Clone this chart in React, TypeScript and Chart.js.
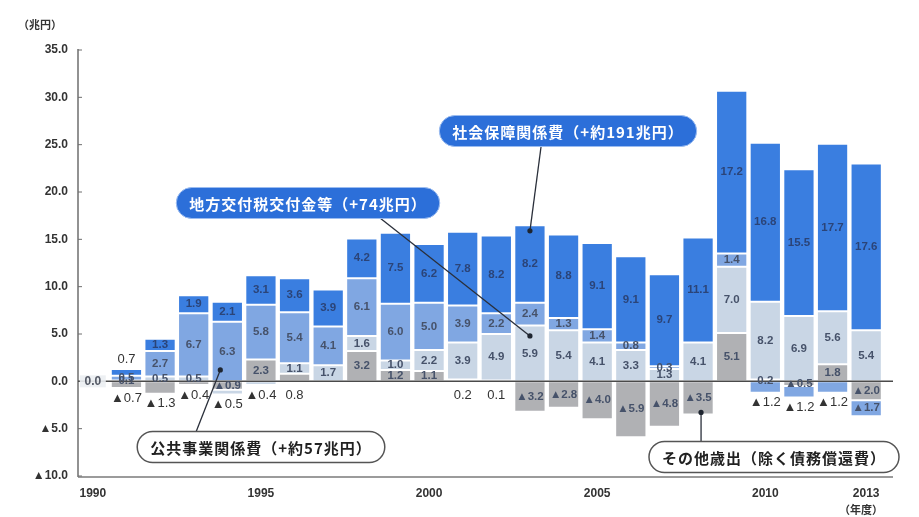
import React, { useEffect, useRef } from 'react';
import { Chart, registerables } from 'chart.js';

Chart.register(...registerables);

// 年度
const years = ['1990', '1991', '1992', '1993', '1994', '1995', '1996', '1997', '1998', '1999', '2000', '2001',
  '2002', '2003', '2004', '2005', '2006', '2007', '2008', '2009', '2010', '2011', '2012', '2013'];
const tickYears = ['1990', '1995', '2000', '2005', '2010', '2013'];
const yTicks = [-10, -5, 0, 5, 10, 15, 20, 25, 30, 35];

// 1990年度比の増減（兆円）
const socialSecurity = [0, 0.7, 1.3, 1.9, 2.1, 3.1, 3.6, 3.9, 4.2, 7.5, 6.2, 7.8, 8.2, 8.2, 8.8, 9.1, 9.1, 9.7, 11.1, 17.2, 16.8, 15.5, 17.7, 17.6];
const publicWorks = [0, 0.5, 2.7, 6.7, 6.3, 5.8, 5.4, 4.1, 6.1, 6.0, 5.0, 3.9, 2.2, 2.4, 1.3, 1.4, 0.8, 0.3, 0, 1.4, -1.2, -1.2, -1.2, -1.7];
const localAllocation = [0, 0.1, 0.5, 0.5, -0.5, -0.4, 1.1, 1.7, 1.6, 1.0, 2.2, 3.9, 4.9, 5.9, 5.4, 4.1, 3.3, 1.3, 4.1, 7.0, 8.2, 6.9, 5.6, 5.4];
const otherSpending = [0, -0.7, -1.3, -0.4, -0.9, 2.3, 0.8, 0, 3.2, 1.2, 1.1, 0.2, 0.1, -3.2, -2.8, -4.0, -5.9, -4.8, -3.5, 5.1, 0.2, -0.5, 1.8, -2.0];

const seriesNames = ['その他歳出（除く債務償還費）', '地方交付税交付金等', '公共事業関係費', '社会保障関係費'];
const seriesColors = ['#b0b1b4', '#c9d6e5', '#80a7e2', '#3a7ee0'];

const fmt = (v: number) => (v < 0 ? '▲' + Math.abs(v).toFixed(1) : v.toFixed(1));

const FONT = '"Liberation Sans", Arial, sans-serif';
const JP = '"Noto Sans CJK JP", "Noto Sans", sans-serif';

function roundRect(ctx: CanvasRenderingContext2D, x: number, y: number, w: number, h: number, r: number) {
  ctx.beginPath();
  ctx.moveTo(x + r, y);
  ctx.lineTo(x + w - r, y);
  ctx.arc(x + w - r, y + r, r, -Math.PI / 2, Math.PI / 2);
  ctx.lineTo(x + r, y + h);
  ctx.arc(x + r, y + r, r, Math.PI / 2, Math.PI * 1.5);
  ctx.closePath();
}

function drawPill(ctx: CanvasRenderingContext2D, text: string, cx: number, cy: number, blue: boolean) {
  ctx.save();
  ctx.font = `bold 15px ${JP}`;
  (ctx as any).letterSpacing = '1px';
  const w = ctx.measureText(text).width + 26;
  const h = 31;
  const x = cx - w / 2;
  const y = cy - h / 2;
  roundRect(ctx, x, y, w, h, h / 2);
  if (blue) {
    ctx.fillStyle = '#2c6fd9';
    ctx.fill();
    ctx.strokeStyle = '#9bbcf0';
    ctx.lineWidth = 1;
    ctx.stroke();
    ctx.fillStyle = '#ffffff';
  } else {
    ctx.fillStyle = '#ffffff';
    ctx.fill();
    ctx.strokeStyle = '#555555';
    ctx.lineWidth = 1.5;
    ctx.stroke();
    ctx.fillStyle = '#222222';
  }
  ctx.textAlign = 'center';
  ctx.textBaseline = 'middle';
  ctx.fillText(text, cx, cy + 1);
  ctx.restore();
}

function leader(ctx: CanvasRenderingContext2D, x1: number, y1: number, x2: number, y2: number) {
  ctx.save();
  ctx.strokeStyle = '#2a2f3a';
  ctx.lineWidth = 1.3;
  ctx.beginPath();
  ctx.moveTo(x1, y1);
  ctx.lineTo(x2, y2);
  ctx.stroke();
  ctx.fillStyle = '#1e2530';
  ctx.beginPath();
  ctx.arc(x2, y2, 2.6, 0, Math.PI * 2);
  ctx.fill();
  ctx.restore();
}

const decorPlugin = {
  id: 'decor',
  afterDatasetsDraw(chart: any) {
    const { ctx, chartArea, scales } = chart;
    const xs = scales.x;
    const ys = scales.y;
    const y0 = ys.getPixelForValue(0);
    ctx.save();
    // y axis line and ticks
    ctx.strokeStyle = '#6e6e6e';
    ctx.lineWidth = 1.5;
    ctx.beginPath();
    ctx.moveTo(chartArea.left + 2, chartArea.top - 1);
    ctx.lineTo(chartArea.left + 2, chartArea.bottom + 1);
    ctx.stroke();
    ctx.lineWidth = 1;
    yTicks.forEach((t) => {
      const yy = ys.getPixelForValue(t);
      ctx.beginPath();
      ctx.moveTo(chartArea.left + 2, yy);
      ctx.lineTo(chartArea.left + 6, yy);
      ctx.stroke();
    });
    // bottom axis line
    ctx.strokeStyle = '#7a7a7a';
    ctx.lineWidth = 1.5;
    ctx.beginPath();
    ctx.moveTo(chartArea.left + 2, chartArea.bottom + 1);
    ctx.lineTo(chartArea.right + 10, chartArea.bottom + 1);
    ctx.stroke();
    // zero line
    ctx.strokeStyle = '#4a4a4a';
    ctx.lineWidth = 1.5;
    ctx.beginPath();
    ctx.moveTo(chartArea.left + 2, y0);
    ctx.lineTo(chartArea.right + 10, y0);
    ctx.stroke();

    // 1990 baseline value
    const x1990 = xs.getPixelForValue(0);
    ctx.font = `bold 12px ${FONT}`;
    ctx.textAlign = 'center';
    ctx.textBaseline = 'middle';
    ctx.fillStyle = 'rgba(235,238,242,0.9)';
    ctx.fillRect(x1990 - 13, y0 - 6, 26, 12);
    ctx.fillStyle = '#555a66';
    ctx.fillText(socialSecurity[0].toFixed(1), x1990, y0 + 0.5);

    // data labels
    const sets = chart.data.datasets;
    for (let i = 1; i < years.length; i++) {
      for (let d = 0; d < sets.length; d++) {
        const v = sets[d].data[i];
        if (v === null || v === 0) continue;
        const bar = chart.getDatasetMeta(d).data[i];
        const txt = fmt(v);
        const lx = bar.x;
        let ly = (bar.y + bar.base) / 2;
        let outside = false;
        const later = sets.slice(d + 1).map((s: any) => s.data[i] || 0);
        const anyNeg = sets.some((s: any) => (s.data[i] || 0) < 0);
        if (v < 0 && !later.some((u: number) => u < 0) && Math.abs(v) <= 1.3) {
          outside = true;
          ly = bar.y + 10;
        } else if (v > 0 && d === 0 && v < 1 && !anyNeg) {
          outside = true;
          ly = y0 + 14;
        } else if (v > 0 && !later.some((u: number) => u > 0) && v < 1) {
          outside = true;
          ly = bar.y - 10;
        }
        if (outside) {
          ctx.font = `13px ${FONT}`;
          ctx.fillStyle = '#333333';
        } else {
          ctx.font = `bold 11.5px ${FONT}`;
          ctx.fillStyle = d === 3 ? '#2b4478' : '#46526a';
        }
        ctx.fillText(txt, lx, ly);
      }
    }
    ctx.restore();
  },
  afterDraw(chart: any) {
    const { ctx, scales } = chart;
    const xs = scales.x;
    const ys = scales.y;
    ctx.save();
    // units
    ctx.font = `bold 11px ${JP}`;
    ctx.fillStyle = '#333';
    ctx.textAlign = 'center';
    ctx.textBaseline = 'middle';
    ctx.fillText('（兆円）', 40, 25);
    ctx.fillText('（年度）', 861, 510);
    ctx.restore();

    const i2003 = years.indexOf('2003');
    const i1994 = years.indexOf('1994');
    const i2008 = years.indexOf('2008');

    // 社会保障
    leader(ctx, 541, 147, xs.getPixelForValue(i2003), ys.getPixelForValue(15.9));
    // 地方交付税
    leader(ctx, 380, 218, xs.getPixelForValue(i2003), ys.getPixelForValue(4.8));
    // 公共事業
    leader(ctx, 196, 432, xs.getPixelForValue(i1994) - 7, ys.getPixelForValue(1.2));
    // その他
    const x08 = xs.getPixelForValue(i2008) + 3;
    leader(ctx, x08, 442, x08, ys.getPixelForValue(otherSpending[i2008]) - 2);

    drawPill(ctx, '社会保障関係費（+約191兆円）', 568, 131, true);
    drawPill(ctx, '地方交付税交付金等（+74兆円）', 308, 203, true);
    drawPill(ctx, '公共事業関係費（+約57兆円）', 261, 447, false);
    drawPill(ctx, 'その他歳出（除く債務償還費）', 774, 457, false);
  },
};

export default function App() {
  const ref = useRef<HTMLCanvasElement | null>(null);
  useEffect(() => {
    if (!ref.current) return;
    const series = [otherSpending, localAllocation, publicWorks, socialSecurity];
    const chart = new Chart(ref.current, {
      type: 'bar',
      data: {
        labels: years,
        datasets: series.map((arr, k) => ({
          label: seriesNames[k],
          data: arr.map((v) => (v === 0 ? null : v)),
          backgroundColor: seriesColors[k],
          borderColor: 'rgba(255,255,255,0.95)',
          borderWidth: 1,
          borderSkipped: false,
          categoryPercentage: 0.93,
          barPercentage: 1,
        })),
      },
      options: {
        animation: false,
        responsive: false,
        maintainAspectRatio: false,
        layout: { padding: { top: 50, right: 36, bottom: 0, left: 0 } },
        plugins: { legend: { display: false }, tooltip: { enabled: false } },
        scales: {
          x: {
            stacked: true,
            grid: { display: false, drawTicks: false },
            border: { display: false },
            ticks: {
              autoSkip: false,
              maxRotation: 0,
              padding: 10,
              color: '#333',
              font: { family: FONT, size: 12, weight: 'bold' },
              callback: (_v: any, i: number) => (tickYears.includes(years[i]) ? years[i] : ''),
            },
            afterFit: (s: any) => {
              s.height = 41;
            },
          },
          y: {
            stacked: true,
            min: -10,
            max: 35,
            grid: { display: false, drawTicks: false },
            border: { display: false },
            ticks: {
              stepSize: 5,
              padding: 8,
              color: '#333',
              font: { family: FONT, size: 12, weight: 'bold' },
              callback: (v: any) => fmt(Number(v)),
            },
            afterFit: (s: any) => {
              s.width = 76;
            },
          },
        },
      },
      plugins: [decorPlugin],
    } as any);
    return () => chart.destroy();
  }, []);
  return (
    <div style={{ position: 'absolute', left: 0, top: 0, width: 919, height: 517, background: '#fff' }}>
      <canvas ref={ref} width={919} height={517} style={{ width: 919, height: 517, display: 'block' }} />
    </div>
  );
}
